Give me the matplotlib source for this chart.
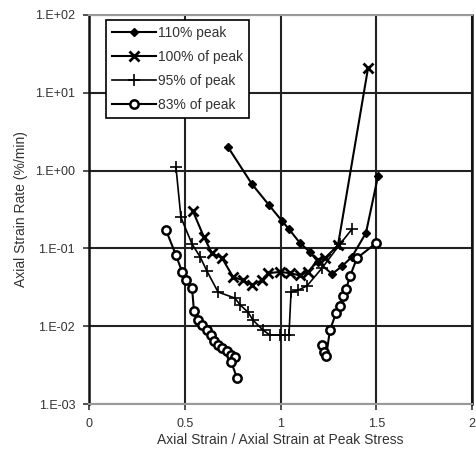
import numpy as np
import matplotlib
matplotlib.use("Agg")
import matplotlib.pyplot as plt
from matplotlib.ticker import FixedLocator, FixedFormatter

plt.rcParams["font.family"] = ["Liberation Sans", "DejaVu Sans"]

# 110% peak
x110 = [0.726, 0.851, 0.94, 1.008, 1.044, 1.102, 1.154, 1.196, 1.269, 1.321, 1.373, 1.446, 1.509]
y110 = [2.0, 0.67, 0.36, 0.225, 0.177, 0.117, 0.09, 0.067, 0.047, 0.059, 0.078, 0.158, 0.85]

# 100% of peak
x100 = [0.543, 0.60, 0.642, 0.695, 0.752, 0.804, 0.851, 0.903, 0.935, 0.997, 1.05,
        1.102, 1.144, 1.196, 1.232, 1.30, 1.457]
y100 = [0.30, 0.14, 0.087, 0.075, 0.043, 0.039, 0.034, 0.039, 0.048, 0.050, 0.048,
        0.045, 0.050, 0.071, 0.075, 0.11, 20.8]

# 95% of peak
x95 = [0.454, 0.48, 0.538, 0.58, 0.616, 0.674, 0.762, 0.789, 0.83, 0.856, 0.909, 0.945,
       0.997, 1.023, 1.044, 1.055, 1.091, 1.138, 1.217, 1.311, 1.373]
y95 = [1.11, 0.25, 0.114, 0.078, 0.051, 0.0275, 0.023, 0.0188, 0.0152, 0.012, 0.0089, 0.0077,
       0.0077, 0.0077, 0.0077, 0.0275, 0.029, 0.033, 0.056, 0.114, 0.177]

# 83% of peak (two runs, gap between)
x83 = [0.402, 0.454, 0.486, 0.507, 0.538, 0.548, 0.569, 0.59, 0.616, 0.637, 0.653, 0.674,
       0.695, 0.721, 0.742, 0.762, 0.742, 0.773, np.nan,
       1.217, 1.227, 1.238, 1.258, 1.29, 1.311, 1.326, 1.342, 1.363, 1.399, 1.499]
y83 = [0.172, 0.082, 0.050, 0.039, 0.031, 0.0157, 0.012, 0.0104, 0.0089, 0.0077, 0.0065, 0.0057,
       0.0052, 0.0048, 0.0043, 0.0040, 0.0035, 0.00216, np.nan,
       0.0057, 0.00466, 0.0041, 0.0089, 0.0148, 0.018, 0.0244, 0.030, 0.044, 0.075, 0.117]

ytick_vals = [1e-3, 1e-2, 1e-1, 1e0, 1e1, 1e2]
ytick_labels = ["1.E-03", "1.E-02", "1.E-01", "1.E+00", "1.E+01", "1.E+02"]
xtick_vals = [0, 0.5, 1, 1.5, 2]
xtick_labels = ["0", "0.5", "1", "1.5", "2"]

fig = plt.figure(figsize=(4.77, 4.54), dpi=100)
ax = fig.add_axes([0.1866, 0.110, 0.803, 0.857])

ax.plot(x110, y110, color="black", lw=1.5, marker="D", ms=4.5, label="110% peak")
ax.plot(x100, y100, color="black", lw=1.5, marker="x", ms=7.5, mew=2, label="100% of peak")
ax.plot(x95, y95, color="black", lw=1.2, marker="+", ms=9, mew=1.2, label="95% of peak")
ax.plot(x83, y83, color="black", lw=1.5, marker="o", ms=6, mfc="white", mew=1.8,
        label="83% of peak")

ax.set_yscale("log")
ax.set_xlim(0, 2)
ax.set_ylim(1e-3, 1e2)
ax.yaxis.set_major_locator(FixedLocator(ytick_vals))
ax.yaxis.set_major_formatter(FixedFormatter(ytick_labels))
ax.yaxis.set_minor_locator(FixedLocator([]))
ax.set_xticks(xtick_vals)
ax.set_xticklabels(xtick_labels)

ax.grid(True, color="#222222", lw=1.5)
ax.tick_params(direction="out", length=4, width=1.2, labelsize=9, colors="#333333",
               pad=6)
for s in ["left", "right"]:
    ax.spines[s].set_color("#111111")
    ax.spines[s].set_linewidth(1.8)
for s in ["top", "bottom"]:
    ax.spines[s].set_color("#999999")
    ax.spines[s].set_linewidth(1.5)

ax.set_xlabel("Axial Strain / Axial Strain at Peak Stress", fontsize=10, color="#333333",
              labelpad=2)
ax.set_ylabel("Axial Strain Rate (%/min)", fontsize=10, color="#333333", labelpad=5)

leg = ax.legend(loc="upper left", bbox_to_anchor=(0.025, 1.005), fontsize=10,
                frameon=True, fancybox=False, edgecolor="black", framealpha=1,
                handlelength=3.2, handletextpad=0.1, borderpad=0.45, labelspacing=0.72)
leg.get_frame().set_linewidth(1.2)
for t in leg.get_texts():
    t.set_color("#333333")

fig.savefig("out.png", dpi=100)
